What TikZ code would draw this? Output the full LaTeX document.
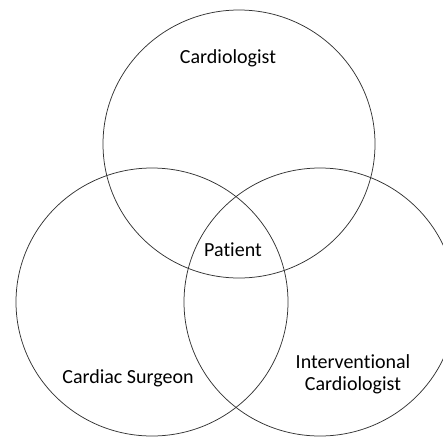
\documentclass[tikz,border=0pt]{standalone}
\usepackage{fontspec}
\setmainfont{Carlito}[Ligatures={NoCommon}]
\usepackage{tikz}
\usetikzlibrary{positioning}

\begin{document}
\begin{tikzpicture}[x=1pt,y=-1pt,
	ring/.style={draw=black!80,line width=0.75pt},
	role/.style={font=\fontsize{20}{22}\selectfont,align=center,inner sep=0pt}]
						\useasboundingbox (0,0) rectangle (443,436);
						\clip (0,0) rectangle (443,436);
						\draw[ring] (239,144) ellipse [x radius=136,y radius=134];
						\draw[ring] (152,302) ellipse [x radius=136,y radius=134];
						\draw[ring] (320,302) ellipse [x radius=136,y radius=134];
						\node[role] (cardio) at (228,58) {Cardiologist};
						\node[role] (patient) at (233,250) {Patient};
						\node[role] (surgeon) at (128,378) {Cardiac Surgeon};
						\node[role] (interv) at (353,374) {Interventional\\Cardiologist};
					\end{tikzpicture}
\end{document}
